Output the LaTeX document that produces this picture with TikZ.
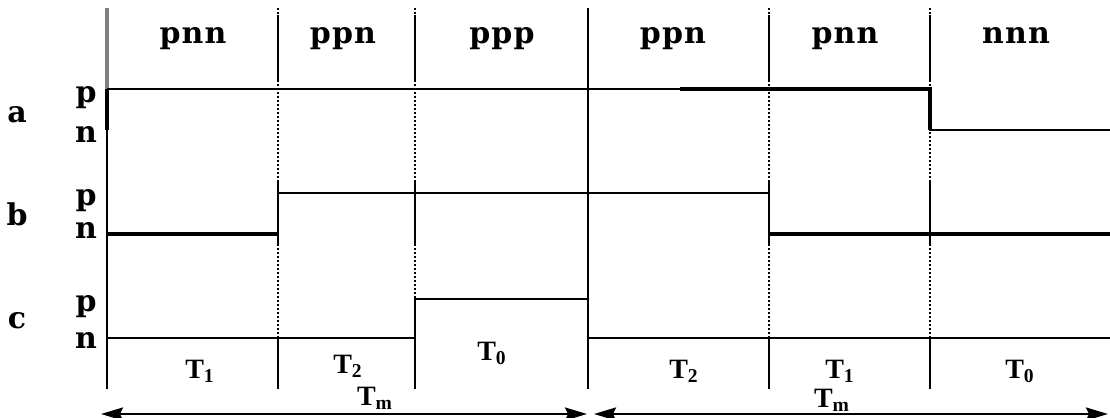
\documentclass[tikz,border=0pt]{standalone}
\usepackage{fontspec}
\setmainfont{Liberation Serif}
\newfontfamily\statefont[LetterSpace=4]{DejaVu Serif}
\newfontfamily\levelfont{DejaVu Serif}
\usetikzlibrary{arrows.meta}

\begin{document}
\begin{tikzpicture}[
        x=0.5pt, y=-0.5pt,
        sig/.style={line width=1pt},
        heavy/.style={line width=1.6pt},
        solidsep/.style={line width=1pt},
        dotsep/.style={line width=1pt, dash pattern=on 1pt off 1pt},
        state/.style={anchor=base, inner sep=0pt, font=\statefont\bfseries\fontsize{15}{16}\selectfont},
        level/.style={anchor=base, inner sep=0pt, font=\levelfont\bfseries\fontsize{15}{16}\selectfont},
        period/.style={anchor=base, inner sep=0pt, font=\bfseries\fontsize{14}{15}\selectfont},
        span/.style={{Stealth[length=11pt,width=6.5pt,inset=1.5pt]}-{Stealth[length=11pt,width=6.5pt,inset=1.5pt]}, line width=1.3pt}
    ]
    \useasboundingbox (0,0) rectangle (1110,418);

    % state headers
    \node (hdr1) [state] at (193,43) {pnn};
    \node (hdr2) [state] at (343,43) {ppn};
    \node (hdr3) [state] at (502,43) {ppp};
    \node (hdr4) [state] at (673,43) {ppn};
    \node (hdr5) [state] at (845,43) {pnn};
    \node (hdr6) [state] at (1016,43) {nnn};

    % signal names and levels
    \node (lblA) [level] at (17,122) {a};
    \node (pA) [level] at (86,102) {p};
    \node (nA) [level] at (86,142) {n};
    \node (lblB) [level] at (17,225) {b};
    \node (pB) [level] at (86,205) {p};
    \node (nB) [level] at (86,238) {n};
    \node (lblC) [level] at (17,328) {c};
    \node (pC) [level] at (86,311) {p};
    \node (nC) [level] at (86,348) {n};

    % dividers
    \foreach \x in {278,415,769,930} {
        \draw[dotsep] (\x,8) -- (\x,389);
        \draw[solidsep] (\x,15) -- (\x,80);
        \draw[solidsep] (\x,180) -- (\x,245);
        \draw[solidsep] (\x,338) -- (\x,389);
    }
    \draw[solidsep] (588,8) -- (588,389);
    \draw[line width=1.6pt, gray] (107,8) -- (107,89);
    \draw[heavy] (107,89) -- (107,130);
    \draw[solidsep] (107,130) -- (107,389);

    % signals
    \draw[sig] (107,89) -- (930,89) -- (930,130) -- (1110,130);
    \draw[heavy] (680,89) -- (930,89) -- (930,130);
    \draw[sig] (107,234) -- (278,234) -- (278,193) -- (769,193) -- (769,234) -- (1110,234);
    \draw[heavy] (107,234) -- (278,234);
    \draw[heavy] (769,234) -- (1110,234);
    \draw[sig] (107,338) -- (415,338) -- (415,299) -- (588,299) -- (588,338) -- (1110,338);

    % periods
    \node (per1) [period] at (200,378) {T\textsubscript{1}};
    \node (per2) [period] at (348,373) {T\textsubscript{2}};
    \node (per3) [period] at (492,360) {T\textsubscript{0}};
    \node (per4) [period] at (684,378) {T\textsubscript{2}};
    \node (per5) [period] at (840,378) {T\textsubscript{1}};
    \node (per6) [period] at (1020,378) {T\textsubscript{0}};

    % cycle spans
    \coordinate (m1l) at (101,414);
    \coordinate (m1r) at (587,414);
    \coordinate (m2l) at (594,414);
    \coordinate (m2r) at (1108,414);
    \draw[span] (m1l) -- (m1r);
    \draw[span] (m2l) -- (m2r);
    \node (tm1) [period] at (375,405) {T\textsubscript{m}};
    \node (tm2) [period] at (832,407) {T\textsubscript{m}};

\end{tikzpicture}
\end{document}
